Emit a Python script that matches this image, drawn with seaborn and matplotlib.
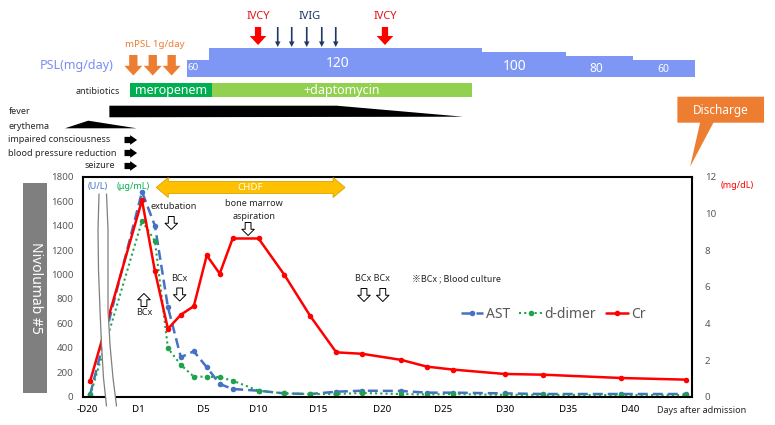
import numpy as np
import matplotlib
matplotlib.use('Agg')
import matplotlib.pyplot as plt
from matplotlib.patches import Polygon, Rectangle
from matplotlib.lines import Line2D
import seaborn as sns

# lab values (x = day after admission, first point = day -20 on a broken axis)
days = [-3, 1, 2, 3, 4, 5, 6, 7, 8, 10, 12, 14, 16, 18, 21, 23, 25, 29, 32, 38, 43]
ast = [20, 1677, 1398, 733, 323, 372, 241, 104, 63, 49, 27, 22, 41, 49, 47, 33, 33, 27, 22, 22, 22]
ddimer = [10, 1439, 1273, 397, 260, 164, 164, 159, 131, 49, 27, 22, 22, 30, 22, 18, 22, 15, 15, 13, 13]
cr = [0.86, 10.72, 6.84, 3.70, 4.47, 4.94, 7.71, 6.71, 8.63, 8.63, 6.64, 4.39, 2.42, 2.34,
      2.01, 1.64, 1.48, 1.24, 1.20, 1.02, 0.93]

tick_pos = [-3.2, 0.69, 5.71, 9.98, 14.59, 19.53, 24.24, 29.03, 33.9, 38.68]
tick_lab = ['-D20', 'D1', 'D5', 'D10', 'D15', 'D20', 'D25', 'D30', 'D35', 'D40']

# treatment timeline
psl_start = [4.5, 6.2, 27.23, 33.74, 38.89]
psl_end = [6.2, 27.23, 33.74, 38.89, 43.7]
psl_dose = [60, 120, 100, 80, 60]
mpsl_days = [0.33, 1.83, 3.29]
ivcy_days = [9.96, 19.76]
ivig_days = [11.48, 12.56, 13.72, 14.88, 15.96]
abx_names = ['meropenem', '+daptomycin']
abx_start = [0.07, 6.38]
abx_end = [6.38, 26.5]
chdf_start, chdf_end = 2.1, 16.68

sns.set_style('white')
plt.rcParams['font.family'] = ['Noto Sans', 'DejaVu Sans']

fig = plt.figure(figsize=(7.75, 4.25), dpi=100)
W, H = 775, 425
L, R, B, T = 83.3, 692.3, 396.7, 176.7
ax = fig.add_axes([L / W, 1 - B / H, (R - L) / W, (B - T) / H])
x0, x1 = -3.533, 43.49

# main lines
sns.lineplot(x=days, y=ast, ax=ax, color='#4472C4', linestyle=(0, (4, 2)), linewidth=1.8,
             marker='o', markersize=4, markeredgewidth=0)
sns.lineplot(x=days, y=ddimer, ax=ax, color='#1FA34A', linestyle=(0, (1, 1.5)), linewidth=1.5,
             marker='o', markersize=4, markeredgewidth=0)
ax.set_xlim(x0, x1)
ax.set_ylim(0, 1800)
ax.set_yticks(range(0, 1801, 200))
ax.set_xticks(tick_pos)
ax.set_xticklabels(tick_lab)
ax.tick_params(axis='y', length=0, pad=7, labelsize=7, labelcolor='#595959')
ax.tick_params(axis='x', length=0, pad=6, labelsize=7, labelcolor='#000000')
for s in ax.spines.values():
    s.set_color('black')
    s.set_linewidth(1.5)

ax2 = ax.twinx()
sns.lineplot(x=days, y=cr, ax=ax2, color='#FF0000', linewidth=1.8,
             marker='o', markersize=4, markeredgewidth=0)
ax2.set_ylim(0, 12)
ax2.set_yticks(range(0, 13, 2))
ax2.tick_params(axis='y', length=0, pad=9, labelsize=7, labelcolor='#595959')
ax2.set_xlim(x0, x1)
for s in ax2.spines.values():
    s.set_visible(False)

handles = [Line2D([], [], color='#4472C4', linestyle=(0, (4, 2)), lw=1.8, marker='o', ms=4, mew=0),
           Line2D([], [], color='#1FA34A', linestyle=(0, (1, 1.5)), lw=1.5, marker='o', ms=4, mew=0),
           Line2D([], [], color='#FF0000', lw=1.8, marker='o', ms=4, mew=0)]
fig.legend(handles, ['AST', 'd-dimer', 'Cr'], loc='center', bbox_to_anchor=(553 / W, 1 - 314 / H),
           ncol=3, frameon=False, fontsize=10, handlelength=1.6, handletextpad=0.2,
           columnspacing=0.7, labelcolor='#595959')

# overlay in (day, pixel row) coordinates
span = (x1 - x0) / ((R - L) / W)
ox0 = x0 - (L / W) * span
ov = fig.add_axes([0, 0, 1, 1])
ov.set_xlim(ox0, ox0 + span)
ov.set_ylim(H, 0)
ov.axis('off')
ov.set_zorder(5)

# PSL bars
ps = fig.add_axes([0, 1 - 76.7 / H, 1, 29 / H])
ps.set_xlim(ox0, ox0 + span)
ps.set_ylim(-17, 120)
ps.axis('off')
ps.bar(psl_start, np.array(psl_dose) + 17, width=np.array(psl_end) - np.array(psl_start),
       bottom=-17, align='edge', color='#7E97F4', linewidth=0)
for xd, yp, t, fs in [(4.94, 67.5, '60', 7), (16.14, 63, '120', 10), (29.8, 66, '100', 10),
                      (36.06, 68.5, '80', 8.5), (41.23, 69.5, '60', 7.5)]:
    ov.text(xd, yp, t, color='white', fontsize=fs, ha='center', va='center')
ov.text(-1.22, 65, 'PSL(mg/day)', color='#7B8EF0', fontsize=9, ha='right', va='center')


def arrow(x_from, y_from, x_to, y_to, fc, ec='none', hl=0.6, hw=1.2, tw=0.45, ms=10, lw=0):
    ov.annotate('', xy=(x_to, y_to), xytext=(x_from, y_from),
                arrowprops=dict(arrowstyle=f'simple,head_length={hl},head_width={hw},tail_width={tw}',
                                fc=fc, ec=ec, lw=lw, mutation_scale=ms, shrinkA=0, shrinkB=0))


ov.text(2.0, 44, 'mPSL 1g/day', color='#ED7D31', fontsize=7, ha='center', va='center')
for d in mpsl_days:
    arrow(d, 55, d, 75.5, '#ED7D31', hl=0.7, hw=1.3, tw=0.6)
for d in ivcy_days:
    arrow(d, 27, d, 45, '#FF0000', hl=0.65, hw=1.2, tw=0.45)
    ov.text(d, 16, 'IVCY', color='#E8141B', fontsize=8, ha='center', va='center')
for d in ivig_days:
    arrow(d, 27, d, 47, '#1F3864', hl=0.4, hw=0.4, tw=0.12)
ov.text(13.97, 16, 'IVIG', color='#203864', fontsize=8, ha='center', va='center')

# antibiotics
ov.text(-0.7, 91, 'antibiotics', fontsize=6.5, ha='right', va='center')
for n, s0, s1, c in zip(abx_names, abx_start, abx_end, ['#00B050', '#92D050']):
    ov.barh(90, s1 - s0, left=s0, height=14.6, color=c, linewidth=0)
    ov.text((s0 + s1) / 2, 90, n, color='white', fontsize=9, ha='center', va='center')

# symptoms
ov.add_patch(Polygon([(-1.52, 105.7), (16.03, 105.7), (25.79, 116.7), (-1.52, 117.3)], color='black', lw=0))
ov.add_patch(Polygon([(-4.95, 128.3), (-3.15, 120.7), (0.59, 128.3)], color='black', lw=0))
for t, yp in [('fever', 111), ('erythema', 126), ('impaired consciousness', 140),
              ('blood pressure reduction', 153)]:
    ov.text(-9.31, yp, t, fontsize=6.5, ha='left', va='center')
ov.text(-1.08, 166, 'seizure', fontsize=6.5, ha='right', va='center')
for yp in [140, 153, 166]:
    arrow(-0.35, yp, 0.62, yp, 'black', hl=0.5, hw=0.7, tw=0.45)

# discharge callout
ov.add_patch(Polygon([(42.34, 96.7), (49.03, 96.7), (49.03, 122.7), (45.12, 122.7), (43.32, 166.7),
                      (44.09, 122.7), (42.34, 122.7)], color='#ED7D31', lw=0))
ov.text(45.67, 110, 'Discharge', color='white', fontsize=8.5, ha='center', va='center')

# Nivolumab box
ov.add_patch(Rectangle((-8.17, 183.3), 1.81, 209.4, color='#7F7F7F', lw=0))
ov.text(-7.26, 288, 'Nivolumab #5', color='white', fontsize=10, rotation=-90, ha='center', va='center')

# axis break
lx = [-2.32, -2.398, -2.359, -2.243, -2.127, -1.973, -1.741]
rx = [-1.741, -1.625, -1.625, -1.625, -1.471, -1.239, -0.969]
by = [194, 230, 270, 310, 345, 378, 406]
ov.fill_betweenx(by, lx, rx, color='white', lw=0)
ov.plot(lx, by, color='#7F7F7F', lw=0.9)
ov.plot(rx, by, color='#7F7F7F', lw=0.9)

# CHDF
hl = 0.93
ov.add_patch(Polygon([(chdf_start, 187.5), (chdf_start + hl, 177.5), (chdf_start + hl, 181.5),
                      (chdf_end - hl, 181.5), (chdf_end - hl, 177.5), (chdf_end, 187.5),
                      (chdf_end - hl, 197.5), (chdf_end - hl, 193.5), (chdf_start + hl, 193.5),
                      (chdf_start + hl, 197.5)], fc='#FFC000', ec='#D9A300', lw=0.6))
ov.text(9.34, 187.5, 'CHDF', color='white', fontsize=7, ha='center', va='center')

# units
ov.text(-2.4, 186.7, '(U/L)', color='#4472C4', fontsize=6.5, fontweight='bold', ha='center', va='center')
ov.text(0.31, 186.7, '(μg/mL)', color='#00B050', fontsize=6.5, fontweight='bold', ha='center', va='center')
ov.text(46.92, 185.7, '(mg/dL)', color='#FF0000', fontsize=6.5, fontweight='bold', ha='center', va='center')
ov.text(44.24, 410.7, 'Days after admission', fontsize=6.5, ha='center', va='center')

# events
ow = dict(fc='white', ec='black', hl=0.45, hw=0.9, tw=0.42, lw=0.7)
ov.text(3.45, 206.5, 'extubation', fontsize=6.5, ha='center', va='center')
arrow(3.26, 216.5, 3.26, 229.5, **ow)
ov.text(9.65, 203.5, 'bone marrow', fontsize=6.5, ha='center', va='center')
ov.text(9.65, 216, 'aspiration', fontsize=6.5, ha='center', va='center')
arrow(9.19, 222.5, 9.19, 235.5, **ow)
arrow(1.15, 306.5, 1.15, 293.5, **ow)
ov.text(1.15, 312.5, 'BCx', fontsize=6.5, ha='center', va='center')
ov.text(3.91, 278.5, 'BCx', fontsize=6.5, ha='center', va='center')
arrow(3.91, 288, 3.91, 301, **ow)
ov.text(18.8, 278.5, 'BCx BCx', fontsize=6.5, ha='center', va='center')
arrow(18.14, 288.5, 18.14, 301.5, **ow)
arrow(19.59, 288.5, 19.59, 301.5, **ow)
ov.text(21.83, 279, '※BCx ; Blood culture', fontsize=6.5, ha='left', va='center',
        family=['Noto Sans CJK JP', 'DejaVu Sans'])

fig.savefig('out.png', dpi=100)
